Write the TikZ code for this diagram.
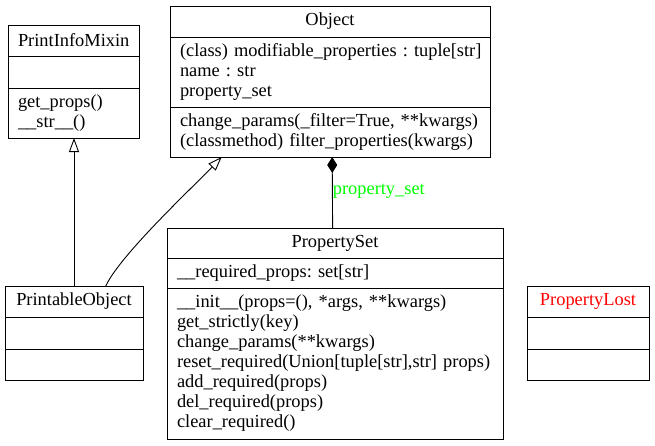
\documentclass[tikz,border=0pt]{standalone}
\usepackage{fontspec}
\setmainfont{Liberation Serif}
\usetikzlibrary{arrows.meta}

\begin{document}
\begin{tikzpicture}[x=1pt,y=-1pt,
  cell/.style={draw, line width=1pt, outer sep=0pt, inner xsep=10pt, inner ysep=0pt,
    anchor=north west, align=left, font=\fontsize{18.4pt}{20pt}\selectfont\frenchspacing},
  head/.style={cell, align=center},
  inherit/.style={line width=0.9pt, -{Triangle[open,length=14pt,width=10pt]}},
  compose/.style={line width=0.9pt, {Diamond[length=16pt,width=10pt]}-}]
\useasboundingbox (0,0) rectangle (655,445);
% PrintInfoMixin
\node[head, text width=111pt, minimum width=131pt, minimum height=31pt] (pim) at (8,25) {PrintInfoMixin};
\node[cell, text width=111pt, minimum width=131pt, minimum height=32pt] (pim attr) at (pim.south west) {};
\node[cell, text width=111pt, minimum width=131pt, minimum height=50pt] (pim ops) at (pim attr.south west) {get\_props()\\\_\_str\_\_()};
% Object
\node[head, text width=300pt, minimum width=320pt, minimum height=31pt] (obj) at (170,6) {Object};
\node[cell, text width=300pt, minimum width=320pt, minimum height=70pt] (obj attr) at (obj.south west)
  {\mbox{(class) modifiable\_properties : tuple[str]}\\name~:~str\\property\_set};
\node[cell, text width=300pt, minimum width=320pt, minimum height=50pt] (obj ops) at (obj attr.south west)
  {\mbox{change\_params(\_filter=True, **kwargs)}\\\mbox{(classmethod) filter\_properties(kwargs)}};
% PropertySet
\node[head, text width=316pt, minimum width=336pt, minimum height=30pt] (ps) at (167,228) {PropertySet};
\node[cell, text width=316pt, minimum width=336pt, minimum height=30pt] (ps attr) at (ps.south west)
  {\_\_required\_props:~set[str]};
\node[cell, text width=316pt, minimum width=336pt, minimum height=151pt] (ps ops) at (ps attr.south west)
  {\mbox{\_\_init\_\_(props=(), *args, **kwargs)}\\get\_strictly(key)\\change\_params(**kwargs)\\
   \mbox{reset\_required(Union[tuple[str],str] props)}\\add\_required(props)\\del\_required(props)\\clear\_required()};
% PrintableObject
\node[head, text width=118pt, minimum width=138pt, minimum height=31pt] (po) at (5,286) {PrintableObject};
\node[cell, text width=118pt, minimum width=138pt, minimum height=32pt] (po attr) at (po.south west) {};
\node[cell, text width=118pt, minimum width=138pt, minimum height=31pt] (po ops) at (po attr.south west) {};
% PropertyLost
\node[head, text width=102pt, minimum width=122pt, minimum height=31pt, text=red] (pl) at (527,286) {PropertyLost};
\node[cell, text width=102pt, minimum width=122pt, minimum height=32pt] (pl attr) at (pl.south west) {};
\node[cell, text width=102pt, minimum width=122pt, minimum height=31pt] (pl ops) at (pl attr.south west) {};
% relations
\draw[inherit] (po.north) -- (po.north |- pim ops.south);
\draw[inherit] (po.26.6) .. controls (120,255) and (195,185) .. (obj ops.193.8);
\draw[compose] (obj ops.275.7) -- node[pos=0.49, right, inner sep=0pt, text=green,
  font=\fontsize{18.4pt}{20pt}\selectfont] {property\_set} (ps.99.5);
\end{tikzpicture}
\end{document}
